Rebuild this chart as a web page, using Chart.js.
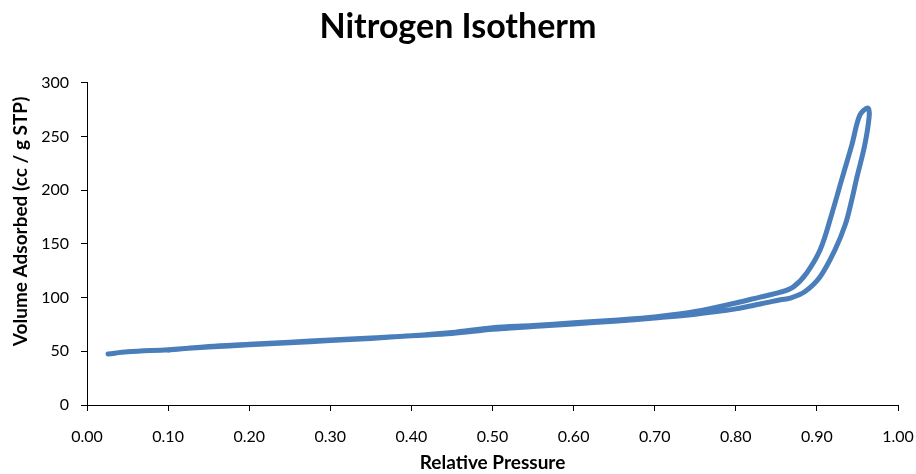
<!DOCTYPE html>
<html>
<head>
<meta charset="utf-8">
<title>Nitrogen Isotherm</title>
<script src="https://cdn.jsdelivr.net/npm/chart.js@4"></script>
<style>
  html, body { margin: 0; padding: 0; background: #fff; }
  #isotherm { display: block; }
</style>
</head>
<body>
<canvas id="isotherm" width="916" height="474"></canvas>
<script>
// adsorption branch, going up in pressure (lower / right side of the loop)
const adsPressure = [0.026, 0.05, 0.10, 0.15, 0.20, 0.25, 0.30, 0.35, 0.40, 0.45, 0.50, 0.55, 0.60, 0.65, 0.70, 0.75, 0.80, 0.83, 0.855, 0.867, 0.885, 0.904, 0.922, 0.935, 0.943, 0.949, 0.959, 0.9646];
const adsVolume   = [47.5, 49.5, 51.5, 54, 56, 58, 60, 62, 64.5, 66.5, 70.5, 73, 75.5, 78, 81, 84.5, 89.5, 94, 98, 99.5, 105.5, 119.5, 144, 168, 191, 211, 242, 270];

// desorption branch, coming back down from the top (upper / left side of the loop)
const desPressure = [0.9626, 0.953, 0.943, 0.931, 0.918, 0.904, 0.887, 0.871, 0.855, 0.83, 0.80, 0.75, 0.70, 0.65, 0.60, 0.55, 0.50, 0.45, 0.40, 0.35, 0.30, 0.25, 0.20, 0.15, 0.10];
const desVolume   = [276.5, 270, 242, 211, 177, 144.5, 122.5, 110, 105, 100.5, 95, 87, 82, 79, 76.5, 74, 72, 67.5, 64.5, 62.5, 60.5, 58.5, 56.5, 54.5, 51];

const xTicks = [0, 0.1, 0.2, 0.3, 0.4, 0.5, 0.6, 0.7, 0.8, 0.9, 1.0];
const yTicks = [0, 50, 100, 150, 200, 250, 300];

const lineColor = '#4a7ebb';
const labelFont = { family: 'Lato', size: 16 };
const titleFont = { family: 'Lato', size: 19, weight: 'bold' };

function toPoints(px, py) {
    return px.map((p, i) => ({ x: p, y: py[i] }));
}

// one closed path: up the adsorption side, round the top, down the desorption side
const loop = toPoints(adsPressure, adsVolume).concat(toPoints(desPressure, desVolume));

new Chart(document.getElementById('isotherm'), {
    type: 'scatter',
    data: {
        datasets: [{
            label: 'Nitrogen isotherm',
            data: loop,
            showLine: true,
            borderColor: lineColor,
            backgroundColor: lineColor,
            borderWidth: 5,
            borderCapStyle: 'round',
            borderJoinStyle: 'round',
            pointRadius: 0,
            tension: 0.35,
            fill: false
        }]
    },
    options: {
        responsive: false,
        devicePixelRatio: 1,
        animation: false,
        layout: { padding: 0 },
        plugins: {
            legend: { display: false },
            tooltip: { enabled: false },
            title: {
                display: true,
                text: 'Nitrogen Isotherm',
                color: '#000',
                font: { family: 'Lato', size: 34, weight: 'bold' },
                padding: { top: 7, bottom: 35 }
            }
        },
        scales: {
            x: {
                type: 'linear',
                min: 0,
                max: 1,
                afterBuildTicks: s => { s.ticks = xTicks.map(v => ({ value: v })); },
                afterFit: s => {
                    s.height = 69;
                    s.paddingLeft = 0;
                    s.paddingRight = 18; // room right of the 1.00 tick
                },
                ticks: {
                    color: '#000',
                    font: labelFont,
                    padding: 16,
                    maxRotation: 0,
                    callback: v => v.toFixed(2)
                },
                grid: { drawOnChartArea: false, drawTicks: true, tickLength: 6, color: '#000' },
                border: { color: '#000', width: 1 },
                title: {
                    display: true,
                    text: 'Relative Pressure',
                    color: '#000',
                    font: titleFont,
                    padding: { top: 0, bottom: 0 }
                }
            },
            y: {
                type: 'linear',
                min: 0,
                max: 300,
                afterBuildTicks: s => { s.ticks = yTicks.map(v => ({ value: v })); },
                afterFit: s => { s.width = 87; },
                ticks: {
                    color: '#000',
                    font: labelFont,
                    padding: 12
                },
                grid: { drawOnChartArea: false, drawTicks: true, tickLength: 6, color: '#000' },
                border: { color: '#000', width: 1 },
                title: {
                    display: true,
                    text: 'Volume Adsorbed (cc / g STP)   ',
                    color: '#000',
                    font: titleFont,
                    align: 'end',
                    padding: { top: 9, bottom: 0 }
                }
            }
        }
    }
});
</script>
</body>
</html>
